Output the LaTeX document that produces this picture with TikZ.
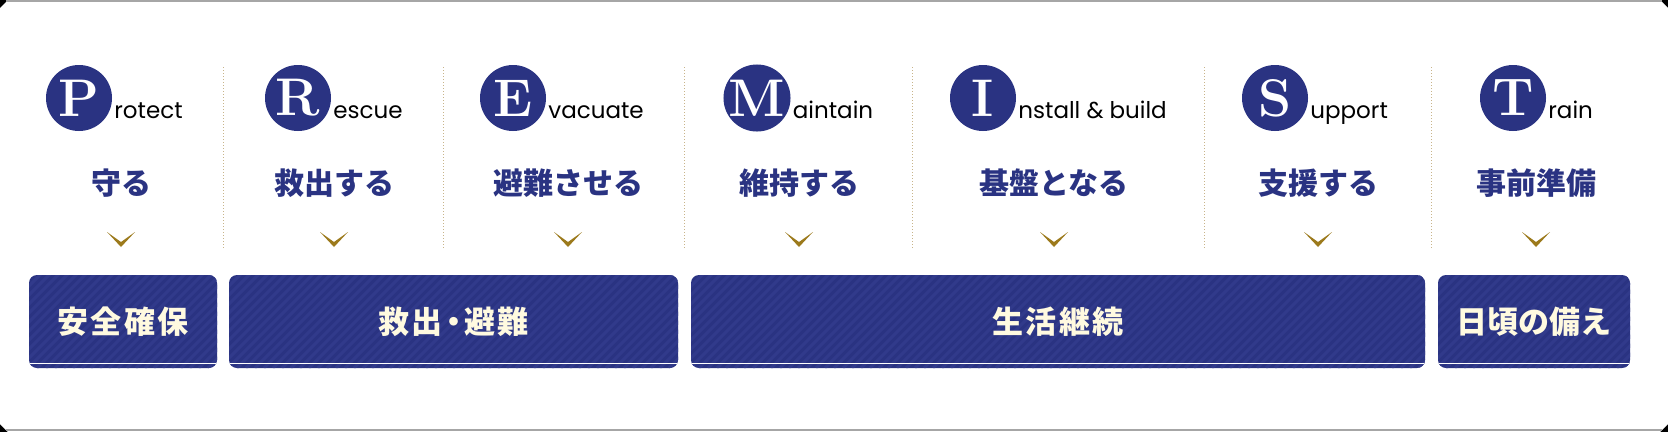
\documentclass[tikz,border=0pt]{standalone}
\usepackage{fontspec}
\usetikzlibrary{calc}
\newfontfamily\jpfont{Noto Sans CJK JP}
\newfontfamily\jpwide{Noto Sans CJK JP}[LetterSpace=8]
\newfontfamily\wordfont{Poppins}
\definecolor{navy}{HTML}{2A3382}
\definecolor{stripe}{HTML}{313A8B}
\definecolor{cream}{HTML}{FFFAE0}
\definecolor{gold}{HTML}{9C7A1C}
\definecolor{dots}{HTML}{C8B48A}

\tikzset{
    initial/.style={circle, fill=navy, minimum size=66pt, inner sep=0pt, text=white,
        font=\fontsize{53}{53}\selectfont\bfseries},
    word/.style={anchor=base west, inner sep=0pt, font=\wordfont\fontsize{23}{23}\selectfont},
    verb/.style={text=navy, inner sep=0pt, font=\jpfont\bfseries\fontsize{30}{30}\selectfont},
    chev/.style={fill=gold},
    sep/.style={draw=dots, line width=1pt, dash pattern=on 1pt off 2pt},
    phase/.style={rounded corners=8pt, fill=navy, inner sep=0pt, minimum height=93pt, text=cream,
        font=\jpwide\bfseries\fontsize{31}{31}\selectfont,
        path picture={
            \foreach \k in {0,...,95}
                \draw[stripe, line width=3pt] ($(path picture bounding box.south west)+(\k*9-100,0)$) -- ++(110,-110);
            \draw[white, line width=1pt] ($(path picture bounding box.south west)+(0,-5)$)
                -- ($(path picture bounding box.south east)+(0,-5)$);
        }},
    tight/.style={font=\jpfont\bfseries\fontsize{31}{31}\selectfont}
}

\begin{document}
\begin{tikzpicture}[x=1pt, y=-1pt]
    \useasboundingbox (0,0) rectangle (1668,432);
    % frame
    \fill[black] (0,0) rectangle (1668,432);
    \fill[white] (8,0) -- (1660,0) -- (1668,8) -- (1668,424) -- (1660,432) -- (8,432) -- (0,424) -- (0,8) -- cycle;
    \draw[gray!70, line width=2pt] (6,1) -- (1662,1);
    \draw[gray!70, line width=2pt] (6,430) -- (1662,430);

    % columns
    \foreach \cx/\lx/\L/\w/\jp [count=\i] in {
        79/121/P/rotect/守る,
        298/334/R/escue/救出する,
        513/568/E/vacuate/避難させる,
        757/799/M/aintain/維持する,
        983/1054/I/nstall \& build/基盤となる,
        1275/1318/S/upport/支援する,
        1513/1536/T/rain/事前準備}
    {
        \node[initial] (L\i) at (\cx,98) {\L};
        \node[word] (W\i) at ($(L\i.east)+(2,20)$) {\w};
        \node[verb] (V\i) at (\lx,183) {\jp};
        \coordinate (C\i) at (\lx,232);
        \fill[chev] (C\i) ++(-14,0) -- ++(14,10) -- ++(14,-10) -- ++(-14,15) -- cycle;
    }

    % dividers
    \foreach \sx in {223,443,684,912,1204,1431}
        \draw[sep] (\sx,67) -- (\sx,248);

    % phases
    \node[phase, minimum width=188pt] (safety) at (123,321.5) {安全確保};
    \node[phase, minimum width=449pt] (escape) at (453.5,321.5) {救出\kern-5pt・\kern-5pt避難};
    \node[phase, minimum width=734pt] (living) at (1058,321.5) {生活継続};
    \node[phase, tight, minimum width=192pt] (daily) at (1534,321.5) {日頃の備え};
\end{tikzpicture}
\end{document}
